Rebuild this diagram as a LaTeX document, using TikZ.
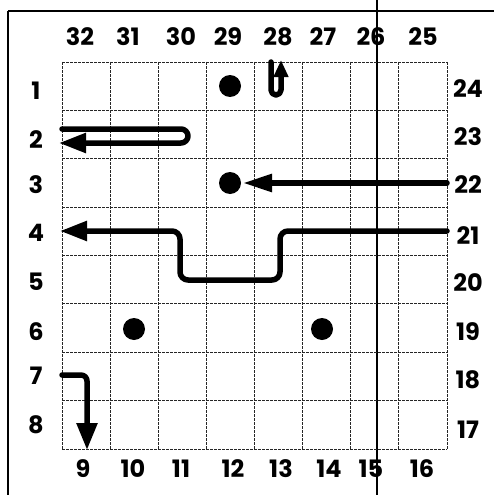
\documentclass[tikz,border=0pt]{standalone}
\usepackage{fontspec}
\setmainfont{Poppins}
\usetikzlibrary{arrows.meta}
\begin{document}
\begin{tikzpicture}[x=1pt,y=-1pt,
  gridline/.style={line width=0.8pt, dash pattern=on 3pt off 1pt, black!85},
  frameline/.style={line width=1.3pt, black},
  lbl/.style={font=\fontsize{24}{24}\selectfont\bfseries, inner sep=0pt},
  dot/.style={circle, fill=black, minimum size=22pt, inner sep=0pt},
  route/.style={line width=5.5pt, black, line cap=round, line join=round},
  bighead/.style={-{Triangle[length=27pt, width=19pt]}},
  smallhead/.style={-{Triangle[length=17pt, width=14pt]}}]
\useasboundingbox (0,0) rectangle (494,495);
% frame
\coordinate (ftl) at (8,11);
\coordinate (ftr) at (494,11);
\coordinate (fbl) at (8,495);
\coordinate (vt) at (377,0);
\coordinate (vb) at (377,495);
\draw[frameline] (ftl) -- (ftr);
\draw[frameline] (ftl) -- (fbl);
\draw[frameline] (vt) -- (vb);
% grid
\foreach \i in {0,...,8} {
  \draw[gridline] ({62+48.125*\i},62) -- ({62+48.125*\i},449);
  \draw[gridline] (62,{62+48.375*\i}) -- (447,{62+48.375*\i});
}
% top labels
\foreach \t/\x in {32/80,31/128,30/181,29/228,28/278,27/323,26/371,25/423}
  \node[lbl] (top\t) at (\x,37) {\t};
% bottom labels
\foreach \t/\x in {9/83,10/133,11/181,12/233,13/281,14/329,15/371,16/422}
  \node[lbl] (bot\t) at (\x,469) {\t};
% left labels
\foreach \t/\y in {1/91,2/140,3/185,4/233,5/282,6/332,7/376,8/425}
  \node[lbl] (lft\t) at (36,\y) {\t};
% right labels
\foreach \t/\y in {24/89,23/137,22/185,21/236,20/283,19/332,18/380,17/430}
  \node[lbl] (rgt\t) at (468,\y) {\t};
% dots
\node[dot] (d1) at (230,86) {};
\node[dot] (d3) at (230,183) {};
\node[dot] (d6a) at (134,329) {};
\node[dot] (d6b) at (322,329) {};
% arrow row 2 (U-turn)
\coordinate (a2s) at (62,129);
\coordinate (a2r1) at (188,129);
\coordinate (a2r2) at (188,143);
\coordinate (a2e) at (59,143);
\draw[route, bighead, rounded corners=7pt] (a2s) -- (a2r1) -- (a2r2) -- (a2e);
% arrow row 3
\coordinate (a3s) at (447,183);
\coordinate (a3e) at (243,183);
\draw[route, -{Triangle[length=29pt, width=17pt]}] (a3s) -- (a3e);
% arrow row 4 with detour through row 5
\coordinate (a4s) at (447,231);
\coordinate (a4c1) at (280,231);
\coordinate (a4c2) at (280,280);
\coordinate (a4c3) at (180,280);
\coordinate (a4c4) at (180,231);
\coordinate (a4e) at (60,231);
\draw[route, bighead, rounded corners=8pt] (a4s) -- (a4c1) -- (a4c2) -- (a4c3) -- (a4c4) -- (a4e);
% small U arrow at column 28
\coordinate (a28s) at (271,62);
\coordinate (a28c1) at (271,95);
\coordinate (a28c2) at (281,95);
\coordinate (a28e) at (281,60);
\draw[route, smallhead, rounded corners=5pt] (a28s) -- (a28c1) -- (a28c2) -- (a28e);
% arrow row 7 down to 9
\coordinate (a7s) at (62,375);
\coordinate (a7c) at (87,375);
\coordinate (a7e) at (87,450);
\draw[route, -{Triangle[length=27pt, width=20pt]}, rounded corners=6pt] (a7s) -- (a7c) -- (a7e);
\end{tikzpicture}
\end{document}
